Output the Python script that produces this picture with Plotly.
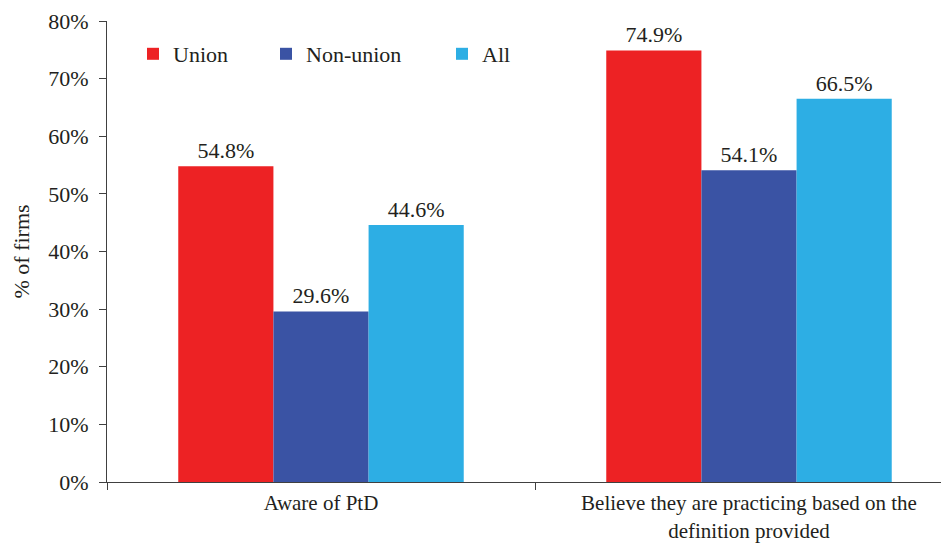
import plotly.graph_objects as go

categories = ["Aware of PtD", "Believe they are practicing based on the<br>definition provided"]
series_names = ["Union", "Non-union", "All"]
union = [54.8, 74.9]
non_union = [29.6, 54.1]
all_firms = [44.6, 66.5]
y_ticks = [0, 10, 20, 30, 40, 50, 60, 70, 80]
y_tick_labels = [f"{v}%" for v in y_ticks]

colors = ["#ED2224", "#3A53A4", "#2DAEE4"]
values = [union, non_union, all_firms]
legends = ["legend", "legend2", "legend3"]

FONT = "Liberation Serif"
TXT = "#231F20"
FS = 22

fig = go.Figure()
for name, vals, col, lg in zip(series_names, values, colors, legends):
    fig.add_trace(go.Bar(
        name=name, x=categories, y=vals, marker_color=col,
        marker_line_width=0,
        text=[f"{v:.1f}%" for v in vals], textposition="outside",
        textfont=dict(family=FONT, size=FS, color=TXT),
        cliponaxis=False, legend=lg,
    ))

# page body has an 8px margin; compensate so the plot lands where the reference is
OFF = 8
W, H = 949 - OFF, 544 - OFF
L, R, T, B = 107 - OFF, 0, 21 - OFF, 62
pw = W - L - R
ph = H - T - B

def lx(px):
    return (px - OFF - L) / pw

leg_y = (H - B - (54 - OFF)) / ph
leg_common = dict(orientation="h", yanchor="middle", y=leg_y, xanchor="left",
                  font=dict(family=FONT, size=FS, color=TXT),
                  bgcolor="rgba(0,0,0,0)", borderwidth=0)

fig.update_layout(
    width=W, height=H,
    margin=dict(l=L, r=R, t=T, b=B, autoexpand=False),
    paper_bgcolor="white", plot_bgcolor="white",
    barmode="group", bargap=0.333, bargroupgap=0,
    font=dict(family=FONT, size=FS, color=TXT),
    legend=dict(x=lx(133), **leg_common),
    legend2=dict(x=lx(266), **leg_common),
    legend3=dict(x=lx(442), **leg_common),
    showlegend=True,
    xaxis=dict(
        type="category", range=[-0.5, 1.5 - 14 / 428],
        showline=True, linecolor="#404040", linewidth=1,
        ticks="outside", tickson="boundaries", ticklen=7, tickcolor="#404040",
        tickfont=dict(family=FONT, size=21, color=TXT),
        ticklabelstandoff=2,
        showgrid=False, automargin=False,
    ),
    yaxis=dict(
        range=[0, 80], tickvals=y_ticks, ticktext=y_tick_labels,
        showline=True, linecolor="#404040", linewidth=1,
        ticks="outside", ticklen=7, tickcolor="#404040",
        tickfont=dict(family=FONT, size=FS, color=TXT),
        ticklabelstandoff=6,
        showgrid=False, zeroline=False, automargin=False,
        title=dict(text="% of firms", font=dict(family=FONT, size=FS, color=TXT), standoff=12),
    ),
)

fig.write_html("out.html")
